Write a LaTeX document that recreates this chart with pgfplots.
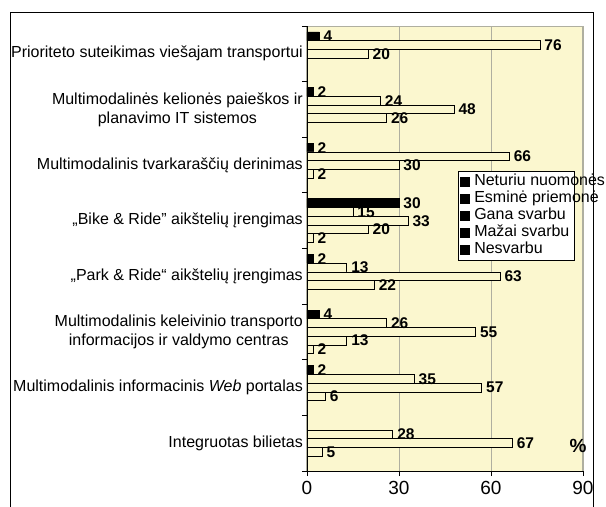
\documentclass[border=0pt]{standalone}
\usepackage{pgfplots}
\pgfplotsset{compat=1.18}
\usepackage{fontspec}
\setmainfont{Liberation Sans}
\definecolor{bg}{RGB}{251,247,207}
\definecolor{gridc}{RGB}{175,175,160}
\begin{document}
\begin{tikzpicture}
\useasboundingbox (-307bp,-36bp) rectangle (299bp,471bp);
\begin{axis}[
  at={(0,0)}, anchor=south west,
  scale only axis, width=276bp, height=445bp,
  xmin=0, xmax=90, ymin=-0.5, ymax=7.5, y dir=reverse,
  clip=false,
  axis x line*=bottom, axis y line*=left,
  axis line style={black, line width=0.8bp},
  axis background/.style={fill=bg, draw=gridc, line width=1bp},
  xmajorgrids, major grid style={gridc, line width=0.8bp},
  xtick={0,30,60,90},
  tick align=outside, major tick length=5bp,
  tick style={black, line width=0.8bp},
  /pgf/number format/assume math mode=true,
  xticklabel style={font=\fontsize{19bp}{22bp}\selectfont, inner sep=1bp, yshift=-4bp},
  ytick={-0.5,0.5,1.5,2.5,3.5,4.5,5.5,6.5,7.5},
  yticklabels={},
  extra y ticks={0,1,2,3,4,5,6,7},
  extra y tick style={major tick length=0pt},
  extra y tick labels={
    {Prioriteto suteikimas viešajam transportui},
    {Multimodalinės kelionės paieškos ir\\planavimo IT sistemos},
    {Multimodalinis tvarkaraščių derinimas},
    {„Bike \& Ride” aikštelių įrengimas},
    {„Park \& Ride“ aikštelių įrengimas},
    {Multimodalinis keleivinio transporto\\informacijos ir valdymo centras},
    {Multimodalinis informacinis \textit{Web} portalas},
    {Integruotas bilietas}},
  yticklabel style={font=\fontsize{16bp}{19bp}\selectfont, align=center, inner sep=1bp, xshift=-3bp},
  point meta=x,
  nodes near coords,
  every node near coord/.append style={anchor=west, font=\fontsize{15.5bp}{17bp}\selectfont\bfseries, inner sep=1bp, xshift=3bp, black},
  legend image code/.code={\fill[black] (0bp,-4.5bp) rectangle (9bp,4.5bp); \path[draw=none,fill=none] (0bp,0bp) -- (13bp,0bp);},
  legend style={at={(0.547,0.674)}, anchor=north west, draw=black, fill=white, line width=0.8bp,
    inner sep=2bp, font=\fontsize{16bp}{18bp}\selectfont,
    nodes={text height=12bp, text depth=4bp, inner sep=0.5bp}, row sep=0pt},
  legend cell align=left,
]
\addplot[xbar, bar shift=0pt, bar width=0.157, fill=black, draw=black, line width=0.8bp]
  coordinates {(4,-0.314) (2,0.686) (2,1.686) (30,2.686) (2,3.686) (4,4.686) (2,5.686)};
\addlegendentry{\makebox[98bp][l]{Neturiu nuomonės}}
\addplot[xbar, bar shift=0pt, bar width=0.157, fill=bg, draw=black, line width=0.8bp]
  coordinates {(76,-0.157) (24,0.843) (66,1.843) (15,2.843) (13,3.843) (26,4.843) (35,5.843) (28,6.843)};
\addlegendentry{\makebox[98bp][l]{Esminė priemonė}}
\addplot[xbar, bar shift=0pt, bar width=0.157, fill=bg, draw=black, line width=0.8bp]
  coordinates {(20,0) (48,1) (30,2) (33,3) (63,4) (55,5) (57,6) (67,7)};
\addlegendentry{\makebox[98bp][l]{Gana svarbu}}
\addplot[xbar, bar shift=0pt, bar width=0.157, fill=bg, draw=black, line width=0.8bp]
  coordinates {(26,1.157) (2,2.157) (20,3.157) (22,4.157) (13,5.157) (6,6.157) (5,7.157)};
\addlegendentry{\makebox[98bp][l]{Mažai svarbu}}
\addplot[xbar, bar shift=0pt, bar width=0.157, fill=bg, draw=black, line width=0.8bp]
  coordinates {(2,3.314) (2,5.314)};
\addlegendentry{\makebox[98bp][l]{Nesvarbu}}
\addplot[xbar, bar shift=0pt, bar width=0.157, fill=black, draw=black, line width=0.8bp, nodes near coords={}, forget plot]
  coordinates {(30,2.686)};
\node[font=\fontsize{19bp}{21bp}\selectfont\bfseries] at (axis cs:88.4,7.05) {\%};
\end{axis}
\draw[line width=0.9bp] (-297bp,-45bp) -- (-297bp,459bp) -- (286bp,459bp) -- (286bp,-45bp);
\end{tikzpicture}
\end{document}
